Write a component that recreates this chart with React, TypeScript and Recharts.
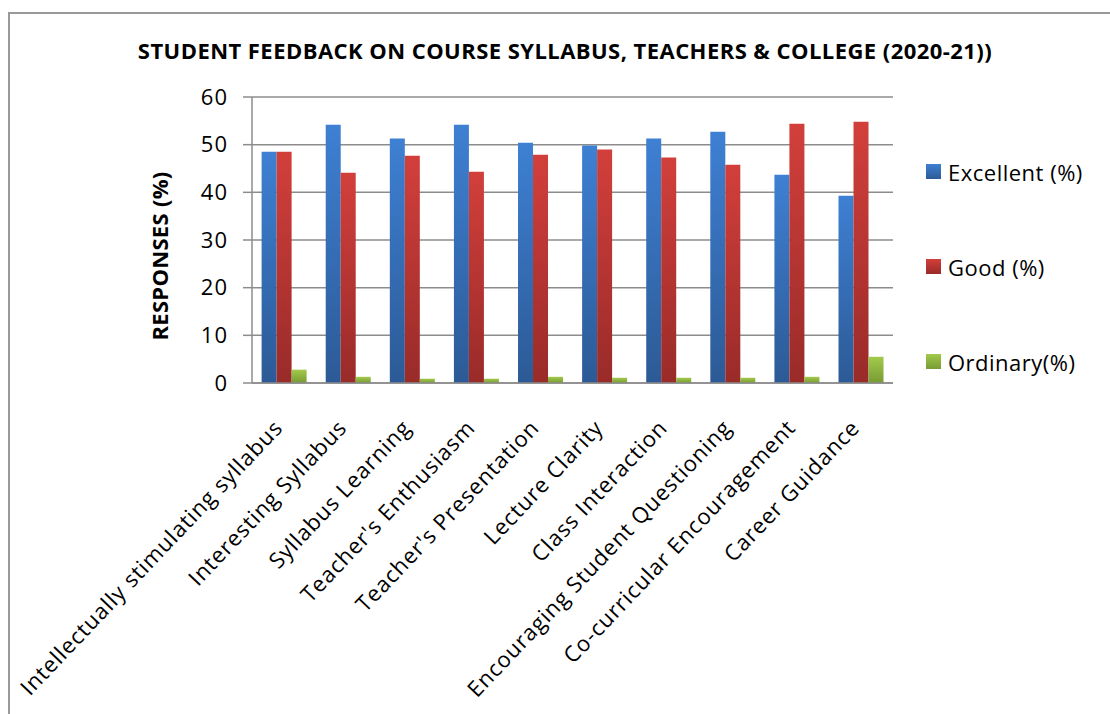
import React from 'react';
import { BarChart, Bar, XAxis, YAxis, CartesianGrid, Legend } from 'recharts';

const categories = [
  'Intellectually stimulating syllabus',
  'Interesting Syllabus',
  'Syllabus Learning',
  "Teacher's Enthusiasm",
  "Teacher's Presentation",
  'Lecture Clarity',
  'Class Interaction',
  'Encouraging Student Questioning',
  'Co-curricular Encouragement',
  'Career Guidance',
];
const excellent = [48.5, 54.2, 51.3, 54.2, 50.4, 49.8, 51.3, 52.7, 43.7, 39.3];
const good = [48.5, 44.1, 47.7, 44.3, 47.9, 49.0, 47.3, 45.8, 54.4, 54.8];
const ordinary = [2.8, 1.3, 0.9, 0.9, 1.3, 1.1, 1.1, 1.1, 1.3, 5.5];
const yTicks = [0, 10, 20, 30, 40, 50, 60];

const data = categories.map((name, i) => ({
  name,
  excellent: excellent[i],
  good: good[i],
  ordinary: ordinary[i],
}));

const FONT = '"Open Sans", Calibri, sans-serif';
const GRID = '#8c8c8c';

const series = [
  { key: 'excellent', label: 'Excellent (%)', top: '#3e80d3', bottom: '#2c5a96' },
  { key: 'good', label: 'Good (%)', top: '#d23f3b', bottom: '#992b29' },
  { key: 'ordinary', label: 'Ordinary(%)', top: '#a2ca4b', bottom: '#789b34' },
];

const AngledTick = (props: any) => {
  const { x, y, payload } = props;
  const ty = y + 46;
  return (
    <text
      x={x}
      y={ty}
      transform={`rotate(-46.5, ${x}, ${ty})`}
      textAnchor="end"
      fontSize={22}
      fontFamily={FONT}
      letterSpacing={0.9}
      fill="#000"
    >
      {payload.value}
    </text>
  );
};

const renderLegend = () => (
  <div style={{ fontFamily: FONT }}>
    {series.map((s) => (
      <div key={s.key} style={{ display: 'flex', alignItems: 'center', height: 95 }}>
        <span
          style={{
            display: 'inline-block',
            width: 15,
            height: 15,
            background: `linear-gradient(${s.top}, ${s.bottom})`,
          }}
        />
        <span style={{ marginLeft: 7, fontSize: 22, letterSpacing: 0.5, color: '#000' }}>{s.label}</span>
      </div>
    ))}
  </div>
);

export default function App() {
  return (
    <div style={{ position: 'absolute', left: 0, top: 0, width: 1110, height: 714, background: '#fff', overflow: 'hidden' }}>
      <div
        style={{
          position: 'absolute',
          left: 8,
          top: 12,
          width: 1120,
          height: 720,
          borderLeft: '2px solid #999',
          borderTop: '2px solid #999',
        }}
      />
      <div
        style={{
          position: 'absolute',
          left: 10,
          top: 35,
          width: 1110,
          textAlign: 'center',
          fontFamily: FONT,
          fontWeight: 700,
          fontSize: 22,
          letterSpacing: 0.45,
          color: '#000',
        }}
      >
        STUDENT FEEDBACK ON COURSE SYLLABUS, TEACHERS &amp; COLLEGE (2020-21))
      </div>
      <BarChart
        width={1110}
        height={714}
        data={data}
        margin={{ top: 97, right: 217, bottom: 0, left: 0 }}
        barCategoryGap="15%"
        barGap={0}
        style={{ position: 'absolute', left: 0, top: 0 }}
      >
        <defs>
          {series.map((s) => (
            <linearGradient key={s.key} id={`grad-${s.key}`} x1="0" y1="0" x2="0" y2="1">
              <stop offset="0%" stopColor={s.top} />
              <stop offset="100%" stopColor={s.bottom} />
            </linearGradient>
          ))}
        </defs>
        <CartesianGrid vertical={false} stroke={GRID} strokeWidth={1.5} />
        <XAxis
          dataKey="name"
          interval={0}
          height={331}
          tickLine={false}
          tickSize={0}
          tickMargin={0}
          axisLine={{ stroke: GRID, strokeWidth: 1.5 }}
          tick={<AngledTick />}
        />
        <YAxis
          width={252}
          domain={[0, 60]}
          ticks={yTicks}
          interval={0}
          tickSize={9}
          tickMargin={15}
          tickLine={{ stroke: GRID, strokeWidth: 1.5 }}
          axisLine={{ stroke: GRID, strokeWidth: 1.5 }}
          tick={{ fontSize: 22, fontFamily: FONT, fill: '#000', letterSpacing: 1 }}
          label={{
            content: () => (
              <text
                x={159}
                y={256}
                transform="rotate(-90, 159, 256)"
                textAnchor="middle"
                dominantBaseline="central"
                fontSize={22}
                fontWeight={700}
                letterSpacing={0.3}
                fontFamily={FONT}
                fill="#000"
              >
                RESPONSES (%)
              </text>
            ),
          }}
        />
        <Legend
          layout="vertical"
          align="center"
          verticalAlign="middle"
          wrapperStyle={{ left: 926, top: 124, width: 184 }}
          content={renderLegend}
        />
        {series.map((s) => (
          <Bar key={s.key} dataKey={s.key} name={s.label} fill={`url(#grad-${s.key})`} isAnimationActive={false} />
        ))}
      </BarChart>
    </div>
  );
}
